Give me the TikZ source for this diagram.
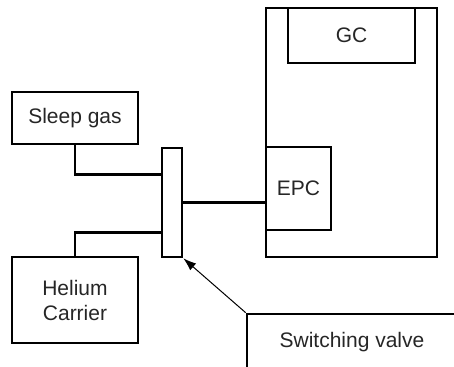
\documentclass[tikz,border=0pt]{standalone}
\usepackage{fontspec}
\setmainfont{Liberation Sans}
\usetikzlibrary{arrows.meta,calc}

\begin{document}
\begin{tikzpicture}[x=1pt, y=-1pt, line width=2.6pt, every node/.style={draw, line width=2.6pt, inner sep=0pt, align=center, font=\fontsize{21}{25}\selectfont, text=black!85}]
  \clip (0,0) rectangle (454,366);

  \node (sleep) [minimum width=126pt, minimum height=52pt] at (75,118) {Sleep gas};
  \node (helium) [minimum width=126pt, minimum height=86pt] at (75,300) {Helium\\Carrier};
  \node (valve) [minimum width=20pt, minimum height=109pt] at (172,202.5) {};

  \node (gc) [minimum width=171pt, minimum height=249pt] at (351.5,132.5) {};
  \node (gcin) [minimum width=127pt, minimum height=55pt] at (351.5,35.5) {GC};
  \node (epc) [minimum width=65pt, minimum height=83pt] at (298.5,188.5) {EPC};

  \node (sv) [minimum width=210pt, minimum height=56pt] at (352,342) {Switching valve};

  \draw (sleep.south) |- ($(valve.north west)!0.25!(valve.south west)$);
  \draw (helium.north) |- ($(valve.north west)!0.77!(valve.south west)$);
  \draw (valve.east) -- (valve.east -| epc.west);
  \draw[-{Latex[length=13pt,width=9pt]}, line width=1pt] (sv.north west) -- (valve.south east);
\end{tikzpicture}
\end{document}
